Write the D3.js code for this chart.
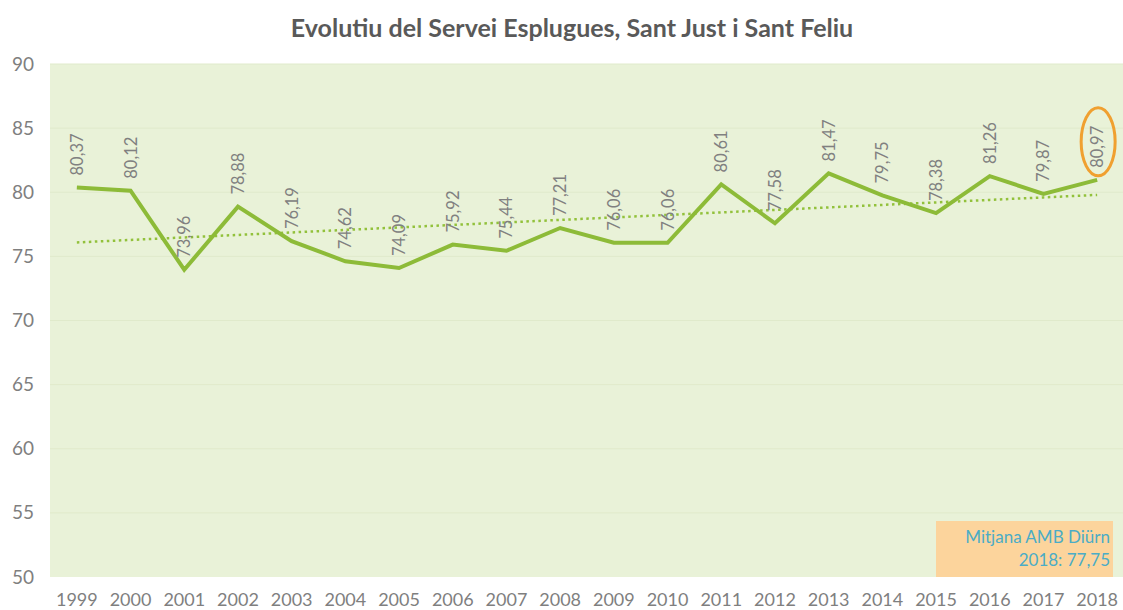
<!DOCTYPE html>
<html>
<head>
<meta charset="utf-8">
<script src="https://cdn.jsdelivr.net/npm/d3@7"></script>
<style>
  body { margin: 0; background: #fff; }
  svg { display: block; font-family: Lato, 'Open Sans', sans-serif; }
</style>
</head>
<body>
<div id="svg-container"></div>
<script>
(function () {
  'use strict'

  // Data
  var years = ['1999', '2000', '2001', '2002', '2003', '2004', '2005', '2006', '2007', '2008',
    '2009', '2010', '2011', '2012', '2013', '2014', '2015', '2016', '2017', '2018']
  var values = [80.37, 80.12, 73.96, 78.88, 76.19, 74.62, 74.09, 75.92, 75.44, 77.21,
    76.06, 76.06, 80.61, 77.58, 81.47, 79.75, 78.38, 81.26, 79.87, 80.97]
  var yTicks = [50, 55, 60, 65, 70, 75, 80, 85, 90]
  var boxLines = ['Mitjana AMB Diürn', '2018: 77,75']

  // Dimensions and stuff
  var w = 1123
  var h = 610
  var left = 50
  var right = 1124
  var top = 64
  var bottom = 577

  var fmt = function (v) { return v.toFixed(2).replace('.', ',') }

  var s = d3.select('#svg-container').append('svg')
    .attr('width', w)
    .attr('height', h)

  var xScale = d3.scaleBand().domain(years).range([left, right])
  var yScale = d3.scaleLinear().domain([50, 90]).range([bottom, top])
  var cx = function (d, i) { return xScale(years[i]) + xScale.bandwidth() / 2 }

  // Title
  s.append('text')
    .attr('x', 572)
    .attr('y', 37)
    .attr('text-anchor', 'middle')
    .attr('font-size', 25)
    .attr('font-weight', 'bold')
    .attr('fill', '#595959')
    .text('Evolutiu del Servei Esplugues, Sant Just i Sant Feliu')

  // Plot background
  s.append('rect')
    .attr('x', left)
    .attr('y', top)
    .attr('width', right - left)
    .attr('height', bottom - top)
    .attr('fill', '#e9f2d8')

  // Grid
  s.append('g').selectAll('line').data(yTicks.slice(1)).enter().append('line')
    .attr('x1', left)
    .attr('x2', right)
    .attr('y1', function (d) { return yScale(d) })
    .attr('y2', function (d) { return yScale(d) })
    .attr('stroke', '#e0eacb')
    .attr('stroke-width', 1)

  // Left axis
  var leftAxis = d3.axisLeft(yScale).tickValues(yTicks).tickSize(0).tickPadding(16)
  var ya = s.append('g')
    .attr('transform', 'translate(' + left + ',0)')
    .call(leftAxis)
  ya.select('.domain').remove()
  ya.selectAll('text')
    .attr('font-family', 'Lato, sans-serif')
    .attr('font-size', 19)
    .attr('fill', '#7f7f7f')

  // Bottom axis
  var bottomAxis = d3.axisBottom(xScale).tickSize(0).tickPadding(16)
  var xa = s.append('g')
    .attr('transform', 'translate(0,' + bottom + ')')
    .call(bottomAxis)
  xa.select('.domain').remove()
  xa.selectAll('text')
    .attr('font-family', 'Lato, sans-serif')
    .attr('font-size', 18)
    .attr('fill', '#7f7f7f')

  // Trend line (least squares)
  var n = values.length
  var mx = d3.mean(values, function (d, i) { return i })
  var my = d3.mean(values)
  var slope = d3.sum(values, function (d, i) { return (i - mx) * (d - my) }) /
    d3.sum(values, function (d, i) { return (i - mx) * (i - mx) })
  var trend = values.map(function (d, i) { return my + slope * (i - mx) })

  var line = d3.line()
    .x(cx)
    .y(function (d) { return yScale(d) })

  s.append('path')
    .datum(trend)
    .attr('d', line)
    .attr('fill', 'none')
    .attr('stroke', '#92c13b')
    .attr('stroke-width', 2.5)
    .attr('stroke-dasharray', '2.5,3.5')

  // Main line
  s.append('path')
    .datum(values)
    .attr('d', line)
    .attr('fill', 'none')
    .attr('stroke', '#8dbb38')
    .attr('stroke-width', 4)
    .attr('stroke-linejoin', 'miter')

  // Labels
  s.append('g').selectAll('text').data(values).enter().append('text')
    .attr('transform', function (d, i) {
      return 'translate(' + (cx(d, i) + 6) + ',' + (yScale(d) - 12) + ') rotate(-90)'
    })
    .attr('font-size', 16.5)
    .attr('fill', '#808080')
    .text(fmt)

  // Highlight last value
  var li = n - 1
  s.append('ellipse')
    .attr('cx', cx(values[li], li) + 1)
    .attr('cy', yScale(values[li]) - 38)
    .attr('rx', 17)
    .attr('ry', 34)
    .attr('fill', 'none')
    .attr('stroke', '#f0a030')
    .attr('stroke-width', 3)

  // Note box
  s.append('rect')
    .attr('x', 936)
    .attr('y', 521)
    .attr('width', 177)
    .attr('height', 56)
    .attr('fill', '#fcd49c')

  s.append('g').selectAll('text').data(boxLines).enter().append('text')
    .attr('x', 1110)
    .attr('y', function (d, i) { return 543 + i * 23 })
    .attr('text-anchor', 'end')
    .attr('font-size', 17)
    .attr('fill', '#4bacc6')
    .text(function (d) { return d })
}())
</script>
</body>
</html>
